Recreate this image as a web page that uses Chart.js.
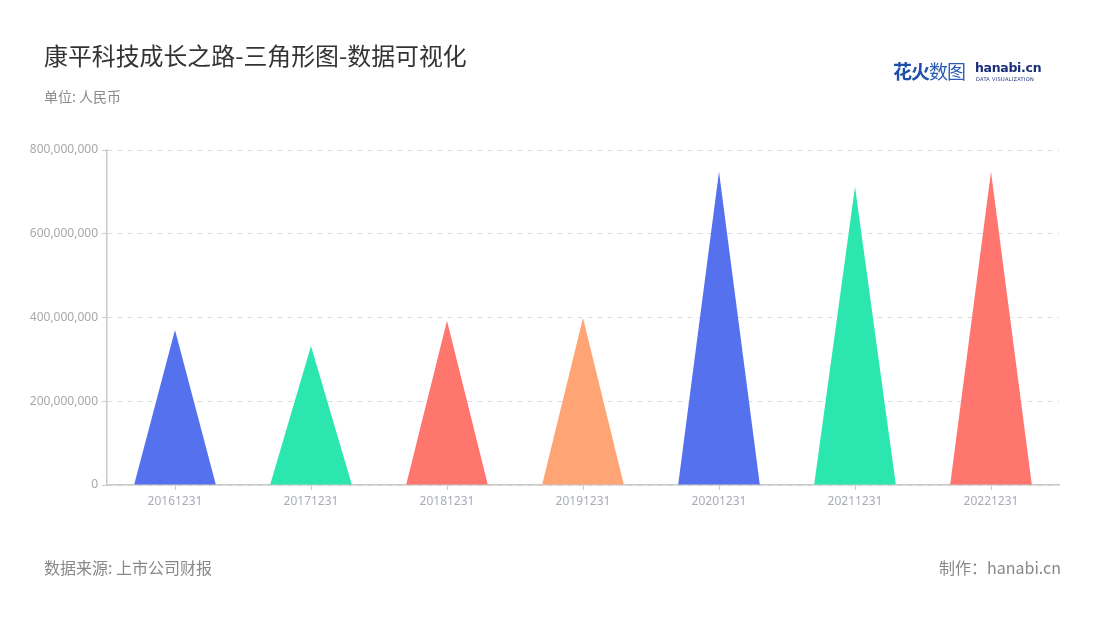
<!DOCTYPE html>
<html>
<head>
<meta charset="utf-8">
<script src="https://cdn.jsdelivr.net/npm/chart.js@4/dist/chart.umd.min.js"></script>
<style>
  body { margin: 0; background: #fff; font-family: "Noto Sans CJK SC", "Noto Sans", sans-serif; }
  #wrap { position: relative; width: 1100px; height: 620px; overflow: hidden; }
  #chart { position: absolute; left: 0; top: 0; }
  .txt { position: absolute; white-space: nowrap; }
  #title { left: 44px; top: 37px; font-size: 23.9px; color: #333; }
  #unit { left: 44px; top: 86px; font-size: 14px; color: #8a8a8a; }
  #source { left: 44px; top: 555px; font-size: 16px; color: #888; }
  #maker { right: 39px; top: 555px; font-size: 16px; color: #888; }
  #logo { left: 893px; top: 60px; width: 150px; height: 24px; }
  #logo .cn { position: absolute; left: 0; top: -3px; font-size: 19px; font-weight: bold; color: #1f4fa8; letter-spacing: -1px; }
  #logo .cn i { font-style: normal; font-weight: normal; color: #2a5cb8; }
  #logo .en { position: absolute; left: 82px; top: 0px; font-size: 12.5px; font-weight: bold; color: #1a2f7a; font-family: "DejaVu Sans", sans-serif; letter-spacing: -0.3px; }
  #logo .sub { position: absolute; left: 83px; top: 16px; font-size: 5px; color: #1a2f7a; letter-spacing: 0.3px; font-family: "DejaVu Sans", sans-serif; }
</style>
</head>
<body>
<div id="wrap">
  <canvas id="chart" width="1100" height="620"></canvas>
  <div class="txt" id="title">康平科技成长之路-三角形图-数据可视化</div>
  <div class="txt" id="unit">单位: 人民币</div>
  <div class="txt" id="logo"><span class="cn">花火<i>数图</i></span><span class="en">hanabi.cn</span><span class="sub">DATA VISUALIZATION</span></div>
  <div class="txt" id="source">数据来源: 上市公司财报</div>
  <div class="txt" id="maker">制作：hanabi.cn</div>
</div>
<script>
const years = ["20161231", "20171231", "20181231", "20191231", "20201231", "20211231", "20221231"]
const revenue = [370000000, 332000000, 392000000, 399000000, 748000000, 712000000, 748000000]
const triColors = ["#5671EE", "#2CE6B0", "#FF766F", "#FFA474", "#5671EE", "#2CE6B0", "#FF766F"]
const yTicks = [0, 200000000, 400000000, 600000000, 800000000]

// draws each bar as a triangle using the bar element geometry
const trianglePlugin = {
    id: "triangles",
    afterDatasetsDraw(chart) {
        const ctx = chart.ctx
        const meta = chart.getDatasetMeta(0)
        meta.data.forEach((bar, i) => {
            const p = bar.getProps(["x", "y", "base", "width"], true)
            ctx.save()
            ctx.fillStyle = triColors[i]
            ctx.beginPath()
            ctx.moveTo(p.x - p.width / 2, p.base)
            ctx.lineTo(p.x, p.y)
            ctx.lineTo(p.x + p.width / 2, p.base)
            ctx.closePath()
            ctx.fill()
            ctx.restore()
        })
    }
}

const tickFont = { family: "'Noto Sans', 'Noto Sans CJK SC', sans-serif", size: 12 }

new Chart(document.getElementById("chart").getContext("2d"), {
    type: "bar",
    data: {
        labels: years,
        datasets: [{
            data: revenue,
            backgroundColor: "rgba(0,0,0,0)",
            borderWidth: 0,
            barPercentage: 0.6,
            categoryPercentage: 1
        }]
    },
    options: {
        responsive: false,
        animation: false,
        layout: { padding: { left: 0, top: 150, right: 41, bottom: 100 } },
        plugins: { legend: { display: false }, tooltip: { enabled: false } },
        scales: {
            x: {
                afterFit: (s) => { s.height = 35 },
                grid: { display: true, drawOnChartArea: false, offset: false, tickLength: 5, tickColor: "#c8c8c8" },
                border: { color: "#c8c8c8", width: 1.5 },
                ticks: { color: "#a8abb8", font: tickFont, padding: 4 }
            },
            y: {
                min: 0,
                max: 800000000,
                afterFit: (s) => { s.width = 107 },
                afterBuildTicks: (s) => { s.ticks = yTicks.map(v => ({ value: v })) },
                grid: { color: "#dcdcdc", tickLength: 5, tickColor: "#c8c8c8", tickBorderDash: [] },
                border: { color: "#c8c8c8", width: 1.5, dash: [5, 5] },
                ticks: {
                    color: "#a8a8a8",
                    font: tickFont,
                    padding: 4,
                    callback: (v) => v.toLocaleString("en-US")
                }
            }
        }
    },
    plugins: [trianglePlugin]
})
</script>
</body>
</html>
